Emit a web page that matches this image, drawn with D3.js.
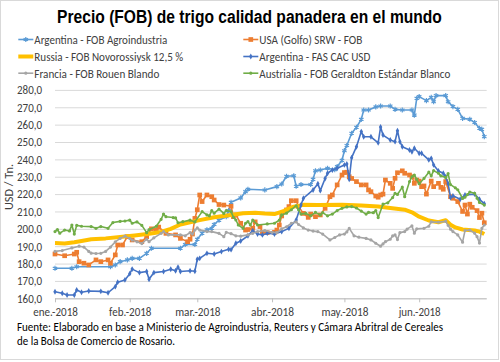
<!DOCTYPE html>
<html><head><meta charset="utf-8">
<script src="https://cdn.jsdelivr.net/npm/d3@7"></script>
<style>body{margin:0;background:#fff}svg{display:block}</style>
</head><body>
<svg id="c" width="500" height="362"></svg>
<script>
const chartTitle = "Precio (FOB) de trigo calidad panadera en el mundo";
const yAxisTitle = "USD / Tn.";
const sourceLines = ["Fuente: Elaborado en base a Ministerio de Agroindustria, Reuters y Cámara Abritral de Cereales",
                     "de la Bolsa de Comercio de Rosario."];
const seriesNames = ["Argentina - FOB Agroindustria","USA (Golfo) SRW - FOB","Russia - FOB Novorossiysk 12,5 %",
                     "Argentina - FAS CAC USD","Francia - FOB Rouen Blando","Austrialia - FOB Geraldton Estándar Blanco"];
const seriesColors = ["#5B9BD5","#ED7D31","#FFC000","#4472C4","#A5A5A5","#70AD47"];
const xDomain = ["2018-01-01","2018-06-29"];
const monthTicks = ["2018-01-01","2018-02-01","2018-03-01","2018-04-01","2018-05-01","2018-06-01"];
const monthLabels = ["ene.-2018","feb.-2018","mar.-2018","abr.-2018","may.-2018","jun.-2018"];
const yTicks = [160,170,180,190,200,210,220,230,240,250,260,270,280];

const argFob = [["2018-01-01",177.3],["2018-01-08",177.3],["2018-01-10",178.2],["2018-01-24",178.2],["2018-01-26",179.2],["2018-01-28",181.1],["2018-01-31",182.1],["2018-02-02",183.0],["2018-02-05",183.0],["2018-02-08",185.9],["2018-02-10",188.8],["2018-02-22",188.8],["2018-02-24",191.0],["2018-02-28",191.0],["2018-03-01",194.0],["2018-03-03",197.5],["2018-03-05",199.5],["2018-03-07",200.3],["2018-03-08",202.5],["2018-03-10",205.0],["2018-03-13",207.0],["2018-03-14",210.5],["2018-03-15",215.3],["2018-03-19",217.8],["2018-03-21",221.4],["2018-03-22",222.8],["2018-03-29",222.4],["2018-04-03",224.3],["2018-04-05",225.8],["2018-04-07",230.3],["2018-04-10",230.6],["2018-04-11",224.5],["2018-04-13",225.5],["2018-04-17",225.5],["2018-04-18",228.5],["2018-04-19",233.4],["2018-04-21",233.9],["2018-04-24",234.9],["2018-04-27",234.0],["2018-04-28",235.8],["2018-04-30",239.5],["2018-05-01",245.0],["2018-05-02",248.0],["2018-05-04",255.0],["2018-05-06",258.5],["2018-05-08",263.0],["2018-05-09",268.4],["2018-05-11",268.4],["2018-05-14",270.2],["2018-05-16",270.7],["2018-05-20",270.7],["2018-05-22",268.8],["2018-05-25",268.4],["2018-05-29",268.4],["2018-05-30",265.5],["2018-05-31",275.2],["2018-06-01",276.1],["2018-06-04",273.8],["2018-06-06",275.7],["2018-06-07",273.2],["2018-06-08",276.7],["2018-06-12",276.7],["2018-06-13",273.2],["2018-06-15",270.4],["2018-06-17",268.8],["2018-06-19",263.6],["2018-06-22",263.1],["2018-06-24",261.2],["2018-06-26",257.9],["2018-06-27",257.3],["2018-06-28",253.1]];

const usaSrw = [["2018-01-01",185.5],["2018-01-05",184.5],["2018-01-09",185.5],["2018-01-10",186.5],["2018-01-11",181.1],["2018-01-13",180.2],["2018-01-15",179.2],["2018-01-18",182.1],["2018-01-20",181.1],["2018-01-23",182.1],["2018-01-24",180.2],["2018-01-26",185.0],["2018-01-27",190.7],["2018-01-29",190.7],["2018-01-31",195.5],["2018-02-02",193.6],["2018-02-06",192.6],["2018-02-08",195.5],["2018-02-10",200.0],["2018-02-12",199.3],["2018-02-13",201.0],["2018-02-16",197.4],["2018-02-20",196.5],["2018-02-22",194.5],["2018-02-25",192.6],["2018-02-26",194.0],["2018-02-27",197.0],["2018-02-28",206.0],["2018-03-01",211.0],["2018-03-02",219.5],["2018-03-03",215.7],["2018-03-05",219.5],["2018-03-07",218.5],["2018-03-08",216.6],["2018-03-10",214.0],["2018-03-12",213.7],["2018-03-15",213.0],["2018-03-16",207.0],["2018-03-17",208.0],["2018-03-19",203.2],["2018-03-21",199.3],["2018-03-22",199.6],["2018-03-24",200.3],["2018-03-25",204.0],["2018-03-27",201.3],["2018-03-28",198.0],["2018-03-30",197.8],["2018-04-02",198.0],["2018-04-03",199.3],["2018-04-04",202.2],["2018-04-05",207.4],["2018-04-07",210.9],["2018-04-08",212.8],["2018-04-09",216.2],["2018-04-11",216.2],["2018-04-12",212.8],["2018-04-14",208.9],["2018-04-16",206.6],["2018-04-17",208.5],["2018-04-19",207.0],["2018-04-21",208.0],["2018-04-23",211.8],["2018-04-25",218.5],["2018-04-26",219.5],["2018-04-28",225.3],["2018-04-30",231.0],["2018-05-01",232.4],["2018-05-02",232.6],["2018-05-03",230.0],["2018-05-04",229.0],["2018-05-06",227.2],["2018-05-08",225.3],["2018-05-10",225.3],["2018-05-11",222.4],["2018-05-12",221.4],["2018-05-14",218.9],["2018-05-15",218.2],["2018-05-16",219.5],["2018-05-17",220.0],["2018-05-18",228.1],["2018-05-20",226.2],["2018-05-21",223.3],["2018-05-22",229.1],["2018-05-23",232.3],["2018-05-25",233.4],["2018-05-26",232.0],["2018-05-28",231.0],["2018-05-29",230.0],["2018-05-30",226.2],["2018-05-31",228.1],["2018-06-01",227.5],["2018-06-02",224.3],["2018-06-03",224.7],["2018-06-04",220.0],["2018-06-06",227.5],["2018-06-07",224.3],["2018-06-09",226.2],["2018-06-10",223.9],["2018-06-11",222.8],["2018-06-12",227.2],["2018-06-14",218.5],["2018-06-15",217.6],["2018-06-17",215.7],["2018-06-19",210.0],["2018-06-20",213.7],["2018-06-21",208.5],["2018-06-22",214.2],["2018-06-23",212.4],["2018-06-25",210.5],["2018-06-26",206.5],["2018-06-27",209.0],["2018-06-28",203.5]];

const russia = [["2018-01-01",191.8],["2018-01-05",191.6],["2018-01-09",192.3],["2018-01-12",193.0],["2018-01-16",194.0],["2018-01-22",194.5],["2018-01-29",195.5],["2018-02-03",196.2],["2018-02-09",197.2],["2018-02-14",198.2],["2018-02-18",200.0],["2018-02-22",202.5],["2018-02-26",203.8],["2018-03-02",205.0],["2018-03-08",206.7],["2018-03-15",208.0],["2018-03-20",209.0],["2018-03-25",209.3],["2018-03-29",208.8],["2018-04-02",208.5],["2018-04-06",210.3],["2018-04-10",212.8],["2018-04-14",213.8],["2018-04-20",213.7],["2018-04-30",213.8],["2018-05-08",213.5],["2018-05-15",212.8],["2018-05-20",212.0],["2018-05-26",211.0],["2018-05-29",209.5],["2018-06-01",207.0],["2018-06-05",204.8],["2018-06-09",203.8],["2018-06-12",205.0],["2018-06-14",202.4],["2018-06-16",200.8],["2018-06-19",199.6],["2018-06-24",199.0],["2018-06-26",198.4],["2018-06-28",197.0]];

const argFas = [["2018-01-01",163.8],["2018-01-04",162.9],["2018-01-06",161.9],["2018-01-09",161.9],["2018-01-10",164.8],["2018-01-12",163.5],["2018-01-15",164.2],["2018-01-20",164.0],["2018-01-23",163.2],["2018-01-26",166.7],["2018-01-27",169.3],["2018-01-30",170.6],["2018-02-01",174.2],["2018-02-02",176.8],["2018-02-05",174.8],["2018-02-08",175.4],["2018-02-09",171.0],["2018-02-11",174.8],["2018-02-15",175.4],["2018-02-18",176.7],["2018-02-20",175.9],["2018-02-21",177.9],["2018-02-22",175.4],["2018-02-26",175.9],["2018-02-28",175.6],["2018-03-01",182.5],["2018-03-02",183.0],["2018-03-05",185.9],["2018-03-08",185.5],["2018-03-11",186.9],["2018-03-14",188.2],["2018-03-15",188.0],["2018-03-17",191.7],["2018-03-19",193.0],["2018-03-22",196.0],["2018-03-24",199.0],["2018-03-26",197.0],["2018-03-28",196.5],["2018-03-30",197.5],["2018-04-02",197.0],["2018-04-05",198.4],["2018-04-08",200.3],["2018-04-11",205.1],["2018-04-13",213.7],["2018-04-14",217.6],["2018-04-18",222.4],["2018-04-20",226.0],["2018-04-21",222.0],["2018-04-23",229.0],["2018-04-24",232.0],["2018-04-26",233.9],["2018-04-28",234.9],["2018-05-01",236.8],["2018-05-02",237.4],["2018-05-03",228.5],["2018-05-04",241.0],["2018-05-06",247.3],["2018-05-08",256.0],["2018-05-09",253.0],["2018-05-12",253.0],["2018-05-15",249.5],["2018-05-16",258.6],["2018-05-17",254.0],["2018-05-20",251.2],["2018-05-22",250.2],["2018-05-23",256.5],["2018-05-24",250.2],["2018-05-25",247.3],["2018-05-28",245.4],["2018-05-29",244.4],["2018-05-30",246.4],["2018-06-01",243.5],["2018-06-02",243.5],["2018-06-05",239.7],["2018-06-06",240.6],["2018-06-07",236.8],["2018-06-09",233.3],["2018-06-11",232.0],["2018-06-12",230.0],["2018-06-13",226.0],["2018-06-14",218.0],["2018-06-15",219.0],["2018-06-18",217.0],["2018-06-20",219.5],["2018-06-24",220.0],["2018-06-26",217.0],["2018-06-28",214.5]];

const francia = [["2018-01-01",187.0],["2018-01-04",187.5],["2018-01-08",189.0],["2018-01-11",190.0],["2018-01-13",189.5],["2018-01-15",187.0],["2018-01-16",186.0],["2018-01-18",185.8],["2018-01-20",185.9],["2018-01-22",187.0],["2018-01-24",189.5],["2018-01-26",192.5],["2018-01-28",194.5],["2018-01-30",195.8],["2018-02-01",194.5],["2018-02-02",193.5],["2018-02-04",192.5],["2018-02-06",191.5],["2018-02-08",194.0],["2018-02-09",192.6],["2018-02-11",194.8],["2018-02-14",197.4],["2018-02-15",198.4],["2018-02-17",196.5],["2018-02-22",196.5],["2018-02-24",196.0],["2018-02-26",197.8],["2018-02-27",197.0],["2018-02-28",199.3],["2018-03-01",200.5],["2018-03-02",199.3],["2018-03-05",198.4],["2018-03-07",198.4],["2018-03-10",197.4],["2018-03-12",195.5],["2018-03-13",198.0],["2018-03-15",197.2],["2018-03-17",196.0],["2018-03-19",195.8],["2018-03-22",196.5],["2018-03-24",197.4],["2018-03-26",198.4],["2018-03-29",199.0],["2018-04-01",198.0],["2018-04-03",197.8],["2018-04-05",200.0],["2018-04-07",201.2],["2018-04-09",203.2],["2018-04-11",204.0],["2018-04-12",202.5],["2018-04-14",200.5],["2018-04-16",199.3],["2018-04-18",198.7],["2018-04-20",198.4],["2018-04-22",197.0],["2018-04-25",193.6],["2018-04-27",195.0],["2018-04-29",196.5],["2018-05-01",197.0],["2018-05-02",198.2],["2018-05-03",200.3],["2018-05-05",196.0],["2018-05-07",195.2],["2018-05-10",194.5],["2018-05-12",193.6],["2018-05-14",191.7],["2018-05-16",190.0],["2018-05-17",191.3],["2018-05-18",192.6],["2018-05-20",194.0],["2018-05-21",195.9],["2018-05-22",196.5],["2018-05-23",193.8],["2018-05-24",197.8],["2018-05-26",198.4],["2018-05-27",199.8],["2018-05-29",201.7],["2018-05-30",197.5],["2018-05-31",200.0],["2018-06-03",200.3],["2018-06-05",201.5],["2018-06-06",204.0],["2018-06-09",203.8],["2018-06-12",204.3],["2018-06-13",202.0],["2018-06-14",199.8],["2018-06-15",198.4],["2018-06-17",196.5],["2018-06-19",192.3],["2018-06-20",199.0],["2018-06-22",199.3],["2018-06-24",197.5],["2018-06-25",195.5],["2018-06-26",191.8],["2018-06-27",200.3],["2018-06-28",202.2]];

const australia = [["2018-01-01",198.4],["2018-01-02",199.5],["2018-01-03",197.5],["2018-01-05",199.3],["2018-01-07",198.8],["2018-01-08",202.2],["2018-01-09",197.0],["2018-01-10",202.0],["2018-01-12",201.5],["2018-01-16",201.3],["2018-01-18",200.3],["2018-01-20",201.3],["2018-01-23",200.3],["2018-01-25",203.6],["2018-01-28",204.3],["2018-01-30",204.5],["2018-02-01",205.0],["2018-02-02",203.2],["2018-02-04",204.0],["2018-02-06",202.0],["2018-02-08",197.8],["2018-02-09",199.5],["2018-02-12",201.5],["2018-02-14",205.5],["2018-02-15",208.5],["2018-02-16",207.0],["2018-02-19",206.5],["2018-02-20",206.3],["2018-02-21",203.5],["2018-02-23",204.1],["2018-02-26",205.0],["2018-02-28",204.0],["2018-03-03",209.9],["2018-03-05",208.0],["2018-03-06",207.5],["2018-03-07",210.5],["2018-03-08",209.0],["2018-03-10",211.3],["2018-03-12",208.9],["2018-03-13",210.5],["2018-03-15",209.9],["2018-03-16",206.6],["2018-03-17",205.1],["2018-03-18",202.2],["2018-03-20",200.3],["2018-03-21",203.2],["2018-03-22",204.1],["2018-03-23",202.2],["2018-03-24",205.1],["2018-03-26",202.2],["2018-03-30",202.8],["2018-04-02",203.2],["2018-04-04",205.0],["2018-04-05",208.0],["2018-04-07",209.0],["2018-04-09",211.0],["2018-04-11",213.3],["2018-04-12",211.0],["2018-04-13",208.5],["2018-04-15",208.9],["2018-04-17",207.5],["2018-04-19",209.5],["2018-04-21",208.0],["2018-04-22",209.3],["2018-04-24",207.5],["2018-04-26",208.5],["2018-04-28",210.5],["2018-04-30",211.8],["2018-05-02",212.6],["2018-05-04",212.8],["2018-05-06",212.0],["2018-05-08",210.2],["2018-05-10",208.5],["2018-05-11",209.5],["2018-05-13",209.3],["2018-05-14",210.5],["2018-05-15",206.5],["2018-05-17",214.2],["2018-05-19",215.0],["2018-05-21",218.0],["2018-05-22",220.5],["2018-05-23",219.8],["2018-05-25",224.0],["2018-05-26",218.5],["2018-05-28",227.2],["2018-05-29",230.0],["2018-05-30",231.0],["2018-05-31",228.5],["2018-06-01",226.0],["2018-06-03",229.0],["2018-06-05",232.6],["2018-06-06",230.5],["2018-06-07",233.5],["2018-06-09",232.0],["2018-06-10",230.5],["2018-06-12",229.5],["2018-06-13",231.8],["2018-06-14",225.5],["2018-06-16",223.6],["2018-06-17",222.5],["2018-06-19",217.5],["2018-06-20",218.2],["2018-06-21",219.7],["2018-06-22",221.2],["2018-06-24",220.5],["2018-06-25",217.6],["2018-06-26",215.2],["2018-06-28",213.7]];

const seriesData = [argFob, usaSrw, russia, argFas, francia, australia];

// ---------- drawing ----------
const parse = d3.timeParse("%Y-%m-%d");
const svg = d3.select("#c");
const FONT = "Carlito, Calibri, Lato, 'Open Sans', sans-serif";
const pLeft = 55, pRight = 486.7, pTop = 89.9, pBottom = 298.3;

svg.append("rect").attr("x",0.5).attr("y",0.5).attr("width",498).attr("height",359)
  .attr("fill","#fff").attr("stroke","#d9d9d9");

const x = d3.scaleTime().domain(xDomain.map(parse)).range([pLeft, pRight]);
const y = d3.scaleLinear().domain([d3.min(yTicks), d3.max(yTicks)]).range([pBottom, pTop]);

function fitTo(sel, w){ sel.attr("textLength", w).attr("lengthAdjust","spacingAndGlyphs"); }

const fmt = d3.formatLocale({decimal:",", thousands:".", grouping:[3], currency:["$",""]}).format(".1f");

// y axis + gridlines
const gy = svg.append("g").attr("transform",`translate(${pLeft},0)`)
  .call(d3.axisLeft(y).tickValues(yTicks).tickFormat(fmt).tickSize(-(pRight-pLeft)).tickPadding(13));
gy.select(".domain").remove();
gy.selectAll("line").attr("stroke","#d9d9d9").attr("stroke-width",1);
gy.selectAll("text").attr("font-family",FONT).attr("font-size",12).attr("fill","#404040");
fitTo(gy.selectAll("text"), 25);

// x axis
const xLabW = [44.7, 42.3, 45.3, 43, 47, 42];
const gx = svg.append("g").attr("transform",`translate(0,${pBottom})`)
  .call(d3.axisBottom(x).tickValues(monthTicks.map(parse)).tickFormat((d,i)=>monthLabels[i]).tickSize(4).tickPadding(5));
gx.select(".domain").attr("stroke","#bfbfbf").attr("d",`M${pLeft},0.5H${pRight}`);
gx.selectAll("line").attr("stroke","#bfbfbf");
gx.selectAll("text").attr("font-family",FONT).attr("font-size",12).attr("fill","#404040")
  .each(function(d,i){ fitTo(d3.select(this), xLabW[i]); });

// series
const markerTypes = [d3.symbolAsterisk, d3.symbolSquare, null, d3.symbolDiamond, d3.symbolCircle, d3.symbolCircle];
const markerSizes = [18, 22, 0, 10, 8, 8];
const lineWidths = [1.6, 1.6, 4, 1.6, 1.6, 1.6];
const line = d3.line().x(d=>x(parse(d[0]))).y(d=>y(d[1]));

seriesData.forEach((data, i) => {
  const g = svg.append("g");
  g.append("path").datum(data).attr("d", line).attr("fill","none")
    .attr("stroke", seriesColors[i]).attr("stroke-width", lineWidths[i]).attr("stroke-linejoin","round");
  if (markerTypes[i]) {
    const sym = d3.symbol().type(markerTypes[i]).size(markerSizes[i]);
    const stroked = markerTypes[i] === d3.symbolAsterisk;
    g.selectAll("path.m").data(data).join("path").attr("class","m")
      .attr("transform", d=>`translate(${x(parse(d[0]))},${y(d[1])})`)
      .attr("d", sym)
      .attr("fill", stroked ? "none" : seriesColors[i])
      .attr("stroke", stroked ? seriesColors[i] : "none").attr("stroke-width", 1.2);
  }
});

// title (natural glyphs, compressed horizontally with a transform)
const tg = svg.append("g");
const t = tg.append("text").attr("x",0).attr("y",0).attr("text-anchor","middle")
  .attr("font-family","'Liberation Sans Narrow','Arial Narrow','Liberation Sans',Arial,sans-serif")
  .attr("font-weight","bold").attr("font-size",19).attr("fill","#000").text(chartTitle);
const tw = t.node().getComputedTextLength();
tg.attr("transform",`translate(249.5,23) scale(${385/tw},1)`);

// legend
const legPos = [[18.3,39.5],[243.3,39.5],[18.3,56.5],[243.3,56.5],[18.3,73.2],[243.3,73.2]];
const legW = [133,103,149,111,125,191];
seriesNames.forEach((name,i)=>{
  const [lx,ly] = legPos[i];
  const g = svg.append("g");
  g.append("line").attr("x1",lx).attr("x2",lx+15).attr("y1",ly).attr("y2",ly)
    .attr("stroke",seriesColors[i]).attr("stroke-width",lineWidths[i]);
  if (markerTypes[i]) {
    const stroked = markerTypes[i] === d3.symbolAsterisk;
    g.append("path").attr("transform",`translate(${lx+7.5},${ly})`)
      .attr("d", d3.symbol().type(markerTypes[i]).size(markerSizes[i]))
      .attr("fill", stroked ? "none" : seriesColors[i])
      .attr("stroke", stroked ? seriesColors[i] : "none").attr("stroke-width",1.2);
  }
  const tx = g.append("text").attr("x",lx+16).attr("y",ly).attr("dy","0.35em")
    .attr("font-family",FONT).attr("font-size",12.5).attr("fill","#404040").text(name);
  fitTo(tx, legW[i]);
});

// y axis title
const yt = svg.append("text").attr("transform","translate(9,187) rotate(-90)")
  .attr("text-anchor","middle").attr("dy","0.35em")
  .attr("font-family",FONT).attr("font-size",12).attr("fill","#404040").text(yAxisTitle);
fitTo(yt, 46);

// source
const srcW = [426, 158];
sourceLines.forEach((s,i)=>{
  const st = svg.append("text").attr("x",17).attr("y",330.5 + i*14.5)
    .attr("font-family",FONT).attr("font-size",12).attr("fill","#000").text(s);
  fitTo(st, srcW[i]);
});
</script>
</body></html>
